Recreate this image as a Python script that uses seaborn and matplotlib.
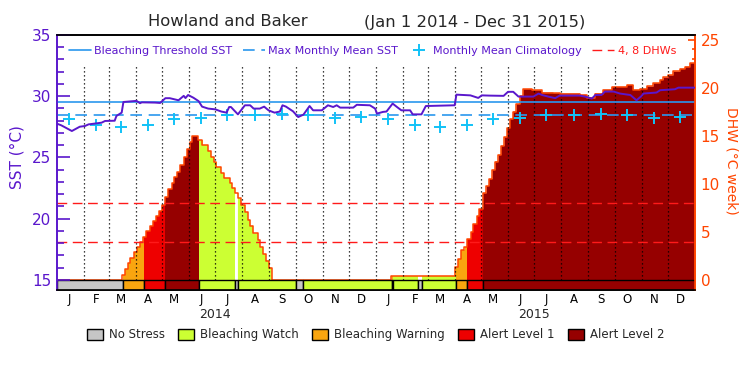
import numpy as np
import pandas as pd
import matplotlib
matplotlib.use('Agg')
import matplotlib.pyplot as plt
import matplotlib.dates as mdates
from matplotlib.lines import Line2D
from matplotlib.patches import Patch
from matplotlib.ticker import MultipleLocator
import seaborn as sns

inicio = pd.Timestamp('2014-01-01')

# SST (degC): dias desde el 1 ene 2014 y valor
sst_dia = [0, 5, 17, 26, 32, 36, 51, 55, 66, 68, 74, 76, 91, 95, 97, 112, 118, 124, 129,
           139, 145, 147, 150, 156, 162, 166, 173, 181, 188, 194, 197, 199, 207, 215, 221,
           225, 232, 237, 242, 247, 249, 255, 258, 262, 270, 276, 282, 289, 293, 303, 310,
           316, 320, 324, 339, 343, 358, 364, 366, 373, 377, 384, 389, 394, 404, 407, 417,
           422, 455, 457, 473, 482, 486, 495, 511, 516, 522, 528, 545, 551, 555, 562, 570,
           575, 598, 604, 612, 616, 623, 627, 637, 644, 656, 663, 669, 671, 686, 690, 707,
           711, 730]
sst_val = [27.76, 27.62, 27.16, 27.51, 27.57, 27.70, 27.84, 27.98, 28.00, 28.39, 28.66,
           29.53, 29.62, 29.43, 29.50, 29.48, 29.45, 29.84, 29.84, 29.67, 30.03, 29.85,
           30.10, 29.88, 29.60, 29.15, 28.99, 28.93, 28.75, 28.66, 29.12, 29.12, 28.52,
           29.26, 29.26, 28.99, 28.99, 29.15, 28.85, 28.71, 28.66, 28.75, 29.26, 29.15,
           28.77, 28.30, 28.50, 29.20, 28.85, 28.85, 29.26, 29.12, 29.26, 29.07, 29.07,
           29.30, 29.26, 28.99, 28.58, 28.72, 28.75, 29.40, 29.12, 28.85, 28.85, 28.52,
           28.52, 29.20, 29.26, 30.13, 30.07, 29.86, 30.07, 30.05, 30.03, 30.36, 30.36,
           29.97, 29.97, 30.22, 30.10, 29.97, 29.84, 30.05, 30.05, 29.97, 29.81, 30.10,
           30.10, 30.38, 30.38, 30.22, 30.10, 29.67, 30.03, 30.22, 30.30, 30.49, 30.57,
           30.70, 30.70]

# climatologia mensual (mitad de mes), igual en los dos anios
clim_mes = [28.11, 27.65, 27.49, 27.65, 28.11, 28.25, 28.44, 28.44, 28.52, 28.44, 28.25, 28.30]
anios = [2014, 2015]
mmm = 28.5
umbral = 29.5

# DHW (degC-semana) en escalones, dia de inicio de cada escalon
dhw_dia = [0, 74.8, 77.8, 80.9, 83.9, 88.5, 91.5, 94.6, 98.4, 102.2, 106.0, 109.8, 113.7,
           116.7, 119.8, 123.6, 127.4, 131.2, 134.2, 137.3, 141.1, 144.9, 148.7, 151.8,
           154.8, 161.7, 166.3, 172.4, 176.2, 180.0, 182.3, 187.7, 190.7, 197.6, 200.6,
           203.7, 207.5, 210.5, 215.1, 218.2, 221.2, 224.3, 229.6, 231.9, 235.7, 238.8,
           242.6, 245.6, 382.1, 455.4, 459.2, 462.3, 466.1, 469.1, 473.7, 476.0, 480.2,
           482.9, 487.5, 491.3, 494.4, 498.2, 501.3, 505.1, 508.1, 512.0, 515.0, 518.1,
           521.9, 525.7, 529.9, 533.5, 543.1, 554.6, 567.8, 575.5, 598.3, 606.0, 611.7,
           615.5, 625.0, 634.6, 651.8, 659.4, 667.0, 674.6, 682.3, 690.0, 693.8, 699.5,
           705.2, 712.9, 718.6, 724.0, 730.0]
dhw_val = [0, 0.52, 1.11, 1.73, 2.26, 2.88, 3.40, 3.92, 4.44, 5.10, 5.66, 6.18, 6.70,
           7.22, 7.81, 8.68, 9.48, 10.07, 10.70, 11.28, 11.98, 12.85, 13.65, 14.41, 15.03,
           14.58, 14.06, 13.44, 12.78, 12.33, 11.74, 11.11, 10.59, 10.07, 9.55, 9.03, 8.51,
           7.81, 7.05, 6.25, 5.66, 4.86, 4.17, 3.40, 2.71, 2.01, 1.28, 0, 0.45, 1.32, 2.15,
           3.13, 3.47, 4.24, 5.03, 5.83, 6.67, 7.40, 9.03, 9.79, 10.52, 11.46, 12.33, 13.02,
           13.96, 14.86, 15.80, 16.74, 17.53, 18.33, 19.17, 19.86, 19.75, 19.51, 19.44,
           19.40, 19.27, 18.99, 18.92, 19.40, 19.80, 20.10, 20.30, 19.79, 19.89, 20.14,
           20.49, 20.83, 21.08, 21.30, 21.70, 21.98, 22.20, 22.57, 22.57]

# estado de alerta: fecha de inicio y nivel (0 sin estres ... 4 alerta 2)
estado_inicio = ['2014-01-01', '2014-03-17', '2014-04-10', '2014-05-05', '2014-06-12',
                 '2014-07-24', '2014-07-27', '2014-10-02', '2014-10-09', '2015-01-19',
                 '2015-01-21', '2015-02-18', '2015-02-23', '2015-04-02', '2015-04-15',
                 '2015-05-03']
estado_nivel = [0, 2, 3, 4, 1, 0, 1, 0, 1, 2, 1, 0, 1, 2, 3, 4]
fin = pd.Timestamp('2016-01-01')

niveles = ['No Stress', 'Bleaching Watch', 'Bleaching Warning', 'Alert Level 1', 'Alert Level 2']
colores = ['#c6c6c6', '#ccff33', '#f9a50f', '#ee0000', '#960000']
letras_mes = list('JFMAMJJASOND')

morado = '#5a17cc'
naranja = '#ff4500'
azul = '#2a97ee'
cian = '#12c2f7'
rojo = '#ff1a1a'

sns.set_style('white')
plt.rcParams['font.family'] = ['DejaVu Sans']

fig = plt.figure(figsize=(7.5, 3.75), dpi=100)
ax_dhw = fig.add_axes([0.076, 0.2267, 0.8507, 0.68])
ax_sst = ax_dhw.twinx()

# rejilla fina para rellenar el DHW segun el estado
rejilla = np.arange(0, 730.01, 0.25)
fechas_rej = inicio + pd.to_timedelta(rejilla, unit='D')
i = np.searchsorted(dhw_dia, rejilla, side='right') - 1
dhw_rej = np.array(dhw_val)[i]
est_dias = (pd.to_datetime(estado_inicio) - inicio).days.values
j = np.searchsorted(est_dias, rejilla, side='right') - 1
est_rej = np.array(estado_nivel)[j]

for nivel in range(1, 5):
    m = est_rej == nivel
    m2 = m.copy()
    m2[1:] |= m[:-1]
    ax_dhw.fill_between(fechas_rej, 0, dhw_rej, where=m2, step='post',
                        color=colores[nivel], lw=0, zorder=2)

fechas_dhw = inicio + pd.to_timedelta(dhw_dia, unit='D')
ax_dhw.step(fechas_dhw, dhw_val, where='post', color=naranja, lw=1.1, zorder=3)

# lineas punteadas de cada mes y umbrales de 4 y 8 DHW
meses = pd.date_range('2014-02-01', '2015-12-01', freq='MS')
ax_dhw.vlines(meses, 0, 22.4, colors='black', linestyles=(0, (1, 2.2)), lw=0.9, zorder=4)
for v in [4, 8]:
    ax_dhw.axhline(v, color=rojo, lw=1, ls=(0, (7, 4)), zorder=4)

# barra de estado
ini = pd.to_datetime(estado_inicio)
fins = list(ini[1:]) + [fin]
x0 = mdates.date2num(ini)
anchos = mdates.date2num(pd.DatetimeIndex(fins)) - x0
ax_dhw.bar(x0, 1.04, width=anchos, bottom=-1.04, align='edge',
           color=[colores[n] for n in estado_nivel], edgecolor='black', lw=1, zorder=5)

# SST
ax_sst.axhline(umbral, color=azul, lw=1.2, zorder=2)
ax_sst.axhline(mmm, color=azul, lw=1.2, ls=(0, (7, 4)), zorder=2)
clim_fechas = [pd.Timestamp(a, k + 1, 15) for a in anios for k in range(12)]
clim_vals = [c for a in anios for c in clim_mes]
sns.scatterplot(x=clim_fechas, y=clim_vals, marker='+', s=80, color=cian,
                linewidth=1.4, ax=ax_sst, zorder=3)
fechas_sst = inicio + pd.to_timedelta(sst_dia, unit='D')
sns.lineplot(x=fechas_sst, y=sst_val, color=morado, lw=1.4, ax=ax_sst, zorder=4)

# ejes
ax_sst.set_ylim(14.18, 35)
ax_dhw.set_ylim(-1.04, 25.5)
ax_dhw.set_xlim(inicio, fin)
ax_sst.yaxis.tick_left()
ax_dhw.yaxis.tick_right()
ax_sst.set_ylabel('')
ax_sst.set_xlabel('')
ax_sst.yaxis.set_major_locator(MultipleLocator(5))
ax_sst.yaxis.set_minor_locator(MultipleLocator(1))
ax_dhw.yaxis.set_major_locator(MultipleLocator(5))
ax_dhw.yaxis.set_minor_locator(MultipleLocator(1))
ax_sst.tick_params(axis='y', which='major', direction='in', length=9, width=1.2,
                   color=morado, labelcolor=morado, labelsize=11, pad=4,
                   left=True, right=False)
ax_sst.tick_params(axis='y', which='minor', direction='in', length=5, width=1.2,
                   color=morado, left=True, right=False)
ax_dhw.tick_params(axis='y', which='major', direction='in', length=5, width=1.2,
                   color=naranja, labelcolor=naranja, labelsize=11, pad=4,
                   left=False, right=True, labelleft=False, labelright=True)
ax_dhw.tick_params(axis='y', which='minor', direction='in', length=2.5, width=1.2,
                   color=naranja, left=False, right=True)

centros = pd.date_range('2014-01-01', periods=24, freq='MS') + pd.Timedelta(days=14)
ax_dhw.set_xticks(centros)
ax_dhw.set_xticklabels(letras_mes * 2)
ax_dhw.tick_params(axis='x', length=0, labelsize=8.5, pad=2, labelcolor='black')
for a in anios:
    ax_dhw.text(pd.Timestamp(a, 7, 1), -0.098, str(a), transform=ax_dhw.get_xaxis_transform(),
                ha='center', va='center', fontsize=9)

for ax in (ax_dhw, ax_sst):
    ax.spines['left'].set_color(morado)
    ax.spines['right'].set_color(naranja)
    ax.spines['top'].set_color('black')
    ax.spines['bottom'].set_color('black')
    for s in ax.spines.values():
        s.set_linewidth(1.2)
        s.set_visible(True)

# leyenda superior
h_sup = [Line2D([], [], color=azul, lw=1.2),
         Line2D([], [], color=azul, lw=1.2, ls=(0, (7, 4))),
         Line2D([], [], color=cian, marker='+', ls='none', ms=9, mew=1.4),
         Line2D([], [], color=rojo, lw=1, ls=(0, (7, 4)))]
t_sup = ['Bleaching Threshold SST', 'Max Monthly Mean SST', 'Monthly Mean Climatology', '4, 8 DHWs']
leg = ax_sst.legend(h_sup, t_sup, ncol=4, loc='center', bbox_to_anchor=(0.4945, 0.937),
                    frameon=False, fontsize=8, handlelength=2.0, handletextpad=0.3,
                    columnspacing=0.9, borderpad=0)
for k, t in enumerate(leg.get_texts()):
    t.set_color(rojo if k == 3 else morado)

# leyenda inferior
h_inf = [Patch(facecolor=c, edgecolor='black', lw=1) for c in colores]
fig.legend(h_inf, niveles, ncol=5, loc='center', bbox_to_anchor=(0.501, 0.107),
           frameon=False, fontsize=8.5, handlelength=1.35, handleheight=1.1,
           handletextpad=0.5, columnspacing=1.15)

fig.text(228 / 750, 1 - 22 / 375, 'Howland and Baker', ha='center', va='center', fontsize=11.8)
fig.text(475 / 750, 1 - 22 / 375, '(Jan 1 2014 - Dec 31 2015)', ha='center', va='center',
         fontsize=11.8)
fig.text(17 / 750, 1 - 157 / 375, 'SST (°C)', rotation=90, ha='center', va='center',
         fontsize=11, color=morado)
fig.text(732 / 750, 1 - 161 / 375, 'DHW (°C week)', rotation=270, ha='center', va='center',
         fontsize=10, color=naranja)

fig.savefig('out.png', dpi=100)
